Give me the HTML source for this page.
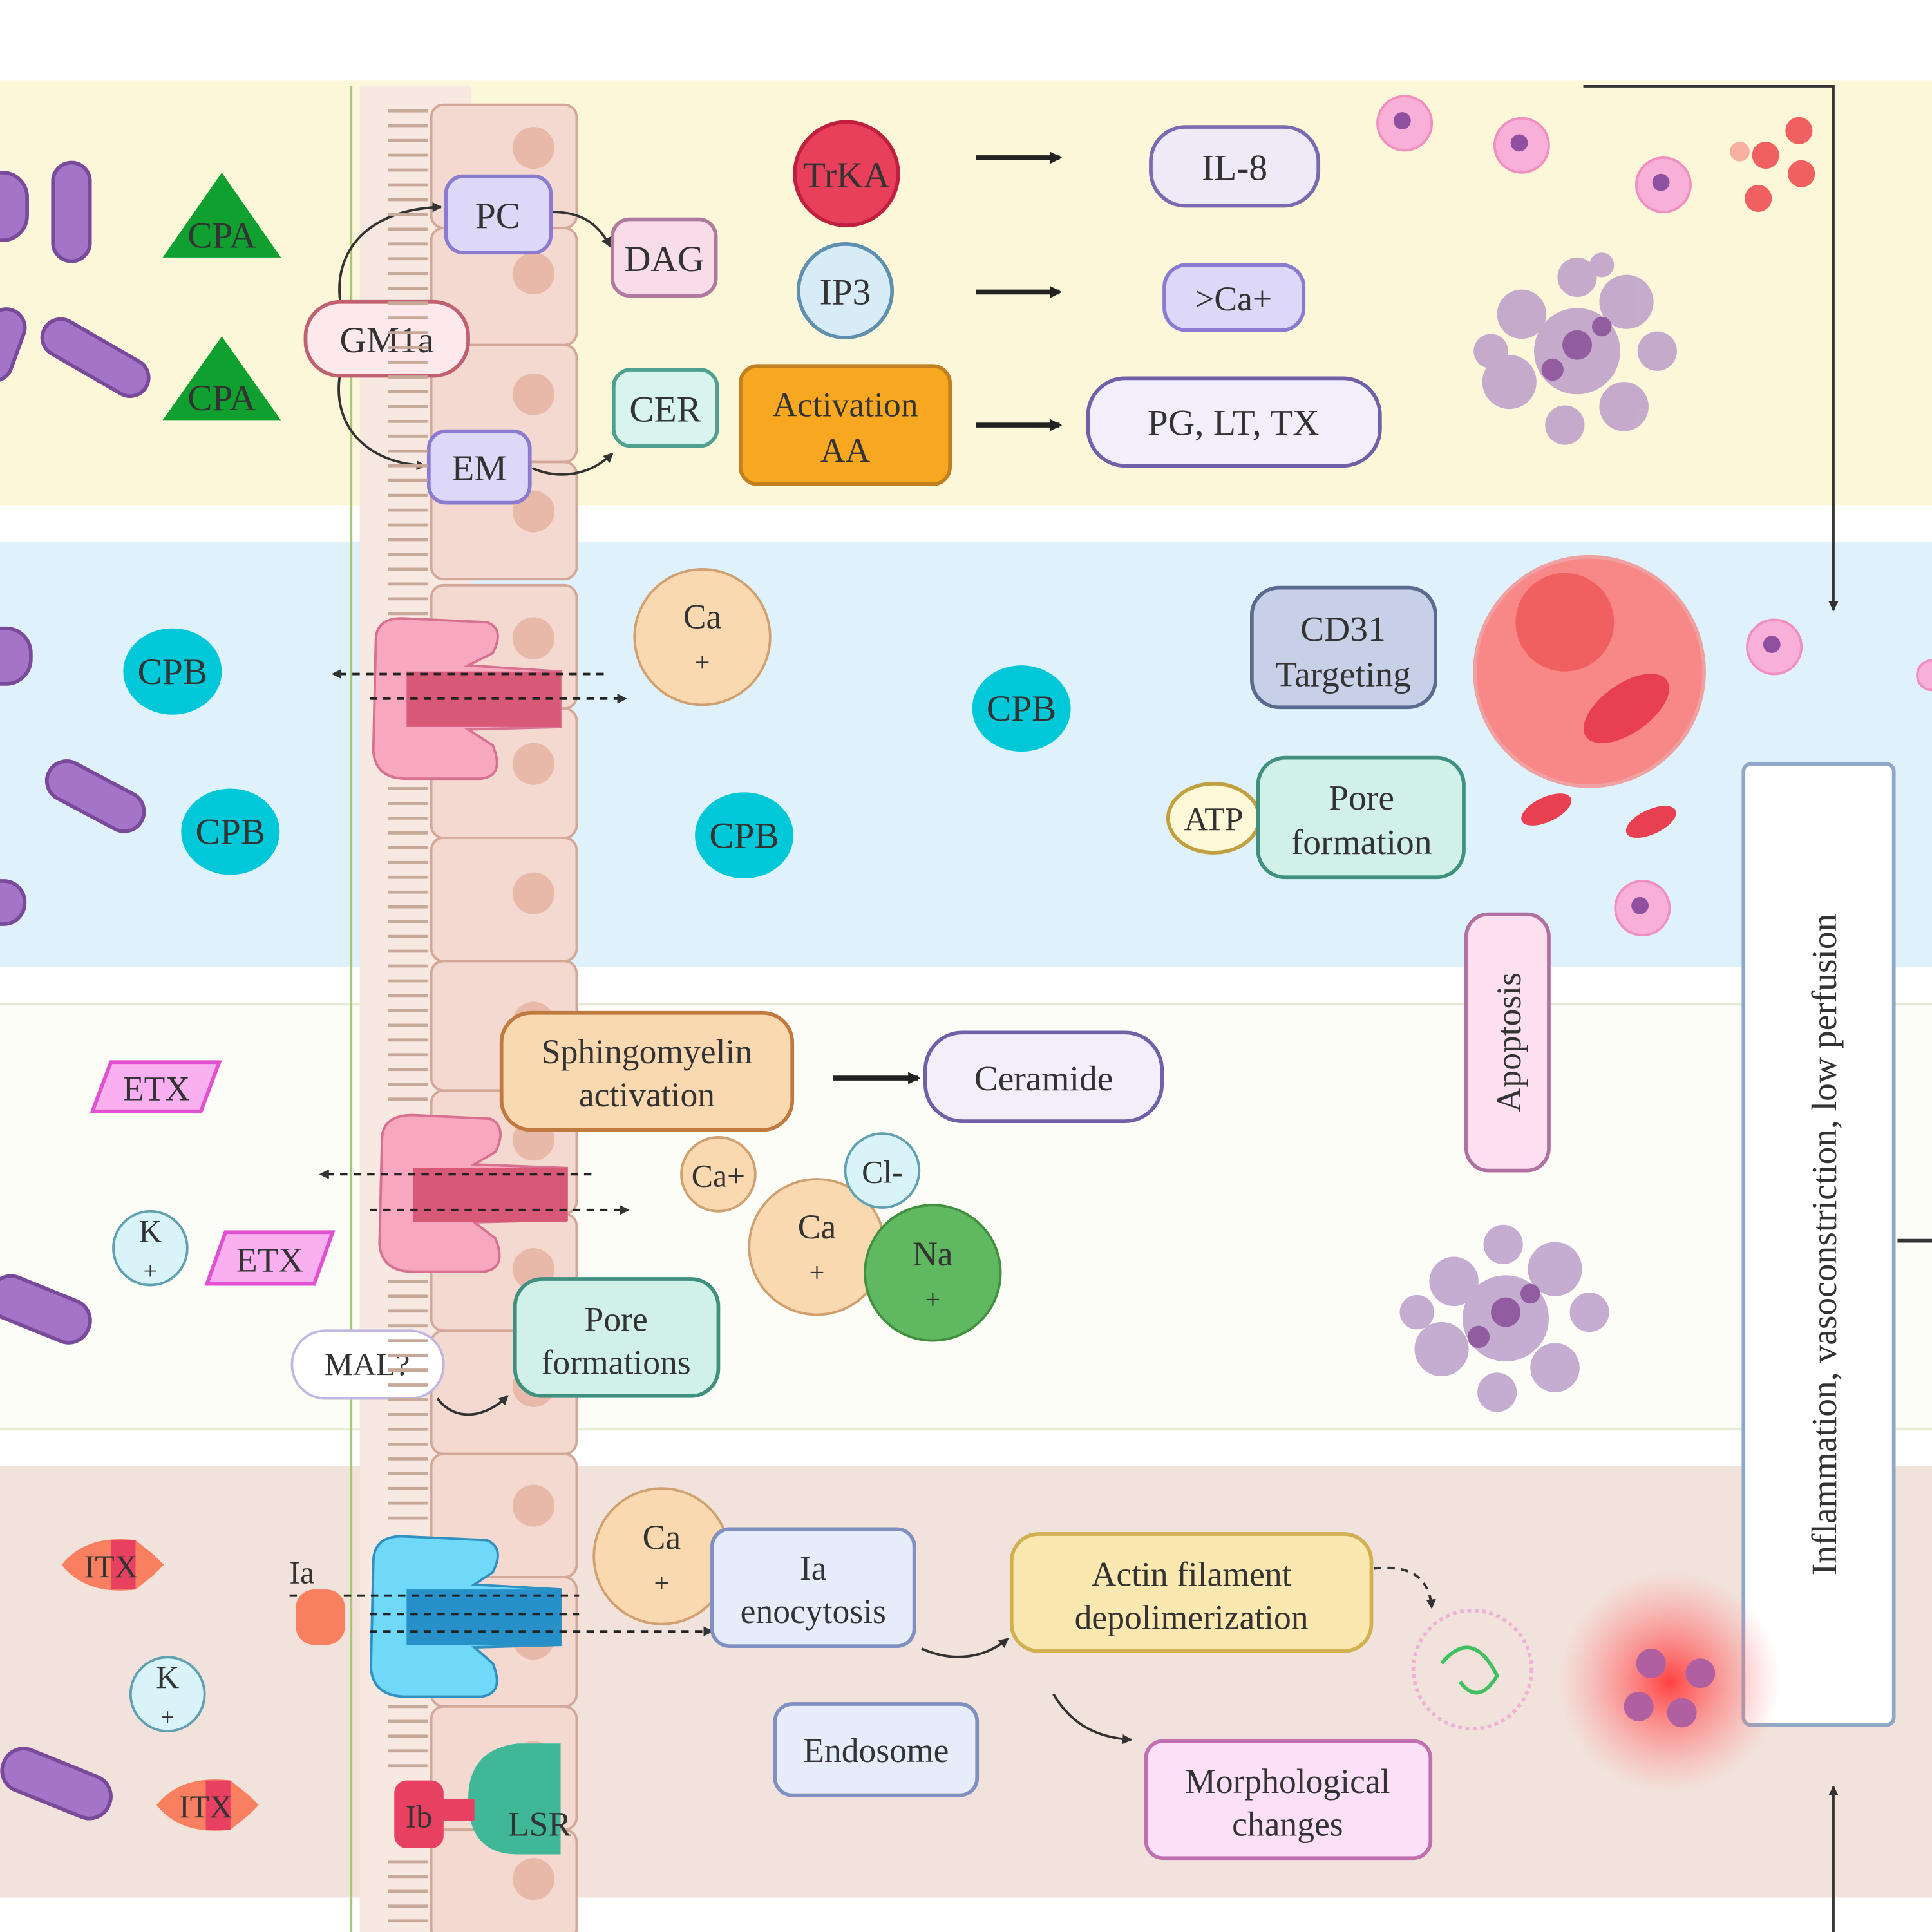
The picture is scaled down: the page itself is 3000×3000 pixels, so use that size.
<!DOCTYPE html>
<html><head><meta charset="utf-8"><style>
html,body{margin:0;padding:0;background:#fff;}
svg{display:block;}
text{font-family:"Liberation Serif",serif;fill:#333;}
</style></head><body>
<svg width="3000" height="3000" viewBox="0 0 1568 1568" xmlns="http://www.w3.org/2000/svg">
<defs>
<marker id="ah" markerWidth="10" markerHeight="10" refX="8" refY="5" orient="auto" markerUnits="userSpaceOnUse"><path d="M0,0 L10,5 L0,10 z" fill="#222"/></marker>
<marker id="ahs" markerWidth="8" markerHeight="8" refX="7" refY="4" orient="auto" markerUnits="userSpaceOnUse"><path d="M0,0 L8,4 L0,8 z" fill="#333"/></marker>
<radialGradient id="glow"><stop offset="0" stop-color="#ff3030" stop-opacity="0.9"/><stop offset="0.5" stop-color="#ff6060" stop-opacity="0.5"/><stop offset="1" stop-color="#ff8080" stop-opacity="0"/></radialGradient>
</defs>
<rect x="0" y="65" width="1568" height="345" fill="#fcf7d9"/>
<rect x="0" y="440" width="1568" height="345" fill="#dff2fc"/>
<rect x="0" y="815" width="1568" height="345" fill="#fdfdf8"/>
<line x1="0" y1="815" x2="1568" y2="815" stroke="#e4ecd8" stroke-width="2"/>
<line x1="0" y1="1160" x2="1568" y2="1160" stroke="#e4ecd8" stroke-width="2"/>
<rect x="0" y="1190" width="1568" height="350" fill="#f2e2dc"/>

<path d="M285,70 L285,1568" stroke="#a8c878" stroke-width="2" fill="none"/>
<rect x="292" y="70" width="90" height="1498" fill="#f8e8e2"/>
<g fill="#f3d9d0" stroke="#d4a898" stroke-width="2">
<rect x="350" y="85" width="118" height="100" rx="10"/>
<rect x="350" y="185" width="118" height="95" rx="10"/>
<rect x="350" y="280" width="118" height="95" rx="10"/>
<rect x="350" y="375" width="118" height="95" rx="10"/>
<rect x="350" y="475" width="118" height="100" rx="10"/>
<rect x="350" y="575" width="118" height="105" rx="10"/>
<rect x="350" y="680" width="118" height="100" rx="10"/>
<rect x="350" y="780" width="118" height="105" rx="10"/>
<rect x="350" y="885" width="118" height="100" rx="10"/>
<rect x="350" y="985" width="118" height="95" rx="10"/>
<rect x="350" y="1080" width="118" height="100" rx="10"/>
<rect x="350" y="1180" width="118" height="100" rx="10"/>
<rect x="350" y="1280" width="118" height="105" rx="10"/>
<rect x="350" y="1385" width="118" height="100" rx="10"/>
<rect x="350" y="1485" width="118" height="90" rx="10"/>
</g>
<g fill="#e8b8a8">
<circle cx="433" cy="120" r="17"/><circle cx="433" cy="222" r="17"/><circle cx="433" cy="320" r="17"/><circle cx="433" cy="415" r="17"/><circle cx="433" cy="518" r="17"/><circle cx="433" cy="620" r="17"/><circle cx="433" cy="725" r="17"/><circle cx="433" cy="830" r="17"/><circle cx="433" cy="925" r="17"/><circle cx="433" cy="1030" r="17"/><circle cx="433" cy="1125" r="17"/><circle cx="433" cy="1222" r="17"/><circle cx="433" cy="1330" r="17"/><circle cx="433" cy="1430" r="17"/><circle cx="433" cy="1525" r="17"/>
</g>

<g>
<path d="M305,520 Q305,500 330,502 L395,505 Q410,510 400,530 L380,540 L455,545 L455,590 L380,592 L400,605 Q410,630 390,632 L330,632 Q305,632 303,610 Z" fill="#f7a8c0" stroke="#d87090" stroke-width="2"/>
<rect x="330" y="545" width="125" height="45" fill="#d85878"/>
<path d="M310,925 Q310,905 335,905 L398,908 Q412,915 402,935 L385,945 L460,948 L460,990 L385,992 L402,1005 Q412,1030 392,1032 L335,1032 Q310,1032 308,1010 Z" fill="#f7a8c0" stroke="#d87090" stroke-width="2"/>
<rect x="335" y="948" width="125" height="44" fill="#d85878"/>
<path d="M303,1268 Q303,1245 330,1247 L395,1250 Q410,1256 400,1276 L385,1286 L455,1290 L455,1335 L385,1337 L400,1350 Q410,1375 390,1377 L330,1377 Q303,1377 301,1354 Z" fill="#70d8f8" stroke="#3090c0" stroke-width="2"/>
<rect x="330" y="1290" width="125" height="45" fill="#2890c8"/>
</g>
<g stroke="#222" stroke-width="2" stroke-dasharray="6,5" fill="none">
<line x1="490" y1="547" x2="270" y2="547" marker-end="url(#ahs)"/>
<line x1="300" y1="567" x2="508" y2="567" marker-end="url(#ahs)"/>
<line x1="480" y1="953" x2="260" y2="953" marker-end="url(#ahs)"/>
<line x1="300" y1="982" x2="510" y2="982" marker-end="url(#ahs)"/>
<line x1="235" y1="1295" x2="470" y2="1295"/>
<line x1="300" y1="1310" x2="470" y2="1310"/>
<line x1="300" y1="1324" x2="578" y2="1324" marker-end="url(#ahs)"/>
</g>

<path d="M420,1415 Q380,1420 380,1460 Q380,1505 420,1505 L455,1505 L455,1415 Z" fill="#40b898"/>
<rect x="320" y="1445" width="40" height="55" rx="10" fill="#e84060"/>
<rect x="355" y="1460" width="30" height="18" fill="#e84060"/>
<text x="340" y="1483" font-size="26" text-anchor="middle">Ib</text>
<text x="438" y="1490" font-size="28" text-anchor="middle">LSR</text>

<g stroke="#333" stroke-width="2" fill="none">
<path d="M300,300 C250,230 280,170 358,168" marker-end="url(#ahs)"/>
<path d="M300,250 C250,320 280,375 345,378" marker-end="url(#ahs)"/>
<path d="M448,172 C470,172 485,180 495,200" marker-end="url(#ahs)"/>
<path d="M432,380 C455,390 480,385 497,368" marker-end="url(#ahs)"/>
<path d="M355,1135 C370,1155 395,1150 412,1133" marker-end="url(#ahs)"/>
<path d="M748,1338 C775,1350 800,1345 818,1330" marker-end="url(#ahs)"/>
<path d="M855,1375 C870,1400 890,1410 918,1412" marker-end="url(#ahs)"/>
</g>
<path d="M1115,1273 C1145,1270 1160,1280 1162,1305" stroke="#333" stroke-width="2" stroke-dasharray="6,5" fill="none" marker-end="url(#ahs)"/>

<g fill="#a474c8" stroke="#7a4a9a" stroke-width="3">
<rect x="43" y="132" width="30" height="80" rx="15"/>
<rect x="-20" y="140" width="42" height="55" rx="20"/>
<rect x="30" y="275" width="95" height="30" rx="15" transform="rotate(30 77 290)"/>
<rect x="-15" y="250" width="30" height="60" rx="15" transform="rotate(20 0 280)"/>
<rect x="-20" y="510" width="45" height="45" rx="20"/>
<rect x="35" y="630" width="85" height="32" rx="16" transform="rotate(28 77 646)"/>
<rect x="-20" y="715" width="40" height="35" rx="17"/>
<rect x="-10" y="1045" width="85" height="35" rx="17" transform="rotate(22 32 1062)"/>
<rect x="0" y="1430" width="92" height="35" rx="17" transform="rotate(22 46 1447)"/>
</g>

<g fill="#10a030">
<polygon points="180,140 228,209 132,209"/>
<polygon points="180,273 228,341 132,341"/>
</g>
<text x="180" y="201" font-size="30" text-anchor="middle" fill="#222">CPA</text>
<text x="180" y="333" font-size="30" text-anchor="middle" fill="#222">CPA</text>

<g stroke-width="3">
<rect x="362" y="143" width="85" height="62" rx="14" fill="#ddd8f8" stroke="#8a7ad0"/>
<rect x="497" y="178" width="84" height="62" rx="14" fill="#f8dce8" stroke="#b07aa0"/>
<rect x="248" y="245" width="132" height="60" rx="28" fill="#fde8ec" stroke="#c06070"/>
<rect x="348" y="350" width="82" height="58" rx="14" fill="#ddd8f8" stroke="#8a7ad0"/>
<rect x="498" y="300" width="84" height="62" rx="14" fill="#d8f4ee" stroke="#50a090"/>
<rect x="601" y="297" width="170" height="96" rx="14" fill="#f8a820" stroke="#c08020"/>
<circle cx="687" cy="141" r="42" fill="#e8405a" stroke="#c02040"/>
<circle cx="686" cy="236" r="38" fill="#d8ecf8" stroke="#6090b0"/>
<rect x="934" y="103" width="136" height="64" rx="28" fill="#eeeaf8" stroke="#7a6ab0"/>
<rect x="945" y="215" width="113" height="53" rx="18" fill="#ddd8f8" stroke="#8a7ad0"/>
<rect x="883" y="307" width="237" height="71" rx="30" fill="#f2eefa" stroke="#7060a8"/>
</g>
<g font-size="30" text-anchor="middle">
<text x="404" y="185">PC</text>
<text x="539" y="220">DAG</text>
<text x="314" y="286">GM1a</text>
<text x="389" y="390">EM</text>
<text x="540" y="342">CER</text>
<text x="686" y="338" font-size="28">Activation</text>
<text x="686" y="375" font-size="28">AA</text>
<text x="687" y="152" fill="#fff">TrKA</text>
<text x="686" y="247">IP3</text>
<text x="1002" y="146">IL-8</text>
<text x="1001" y="252" font-size="28">&gt;Ca+</text>
<text x="1001" y="353">PG, LT, TX</text>
</g>
<g stroke="#222" stroke-width="4">
<line x1="792" y1="128" x2="860" y2="128" marker-end="url(#ah)"/>
<line x1="792" y1="237" x2="860" y2="237" marker-end="url(#ah)"/>
<line x1="792" y1="345" x2="860" y2="345" marker-end="url(#ah)"/>
<line x1="676" y1="875" x2="745" y2="875" marker-end="url(#ah)"/>
</g>

<g fill="#f8b0d8" stroke="#f090c0" stroke-width="2">
<circle cx="1140" cy="100" r="22"/><circle cx="1235" cy="118" r="22"/><circle cx="1350" cy="150" r="22"/>
<circle cx="1440" cy="525" r="22"/><circle cx="1333" cy="737" r="22"/><circle cx="1568" cy="548" r="12"/>
</g>
<g fill="#9050a0"><circle cx="1138" cy="98" r="7"/><circle cx="1233" cy="116" r="7"/><circle cx="1348" cy="148" r="7"/><circle cx="1438" cy="523" r="7"/><circle cx="1331" cy="735" r="7"/></g>
<g fill="#f06060">
<circle cx="1460" cy="106" r="11"/><circle cx="1433" cy="126" r="11"/><circle cx="1462" cy="141" r="11"/><circle cx="1427" cy="161" r="11"/><circle cx="1412" cy="123" r="8" fill="#f8b0a0"/>
</g>
<g fill="#b898c8" opacity="0.8">
<circle cx="1280" cy="285" r="35"/><circle cx="1235" cy="255" r="20"/><circle cx="1320" cy="245" r="22"/><circle cx="1225" cy="310" r="22"/><circle cx="1318" cy="330" r="20"/><circle cx="1280" cy="225" r="16"/><circle cx="1345" cy="285" r="16"/><circle cx="1210" cy="285" r="14"/><circle cx="1270" cy="345" r="16"/><circle cx="1300" cy="215" r="10"/>
<circle cx="1222" cy="1070" r="35"/><circle cx="1180" cy="1040" r="20"/><circle cx="1262" cy="1030" r="22"/><circle cx="1170" cy="1095" r="22"/><circle cx="1262" cy="1110" r="20"/><circle cx="1220" cy="1010" r="16"/><circle cx="1290" cy="1065" r="16"/><circle cx="1150" cy="1065" r="14"/><circle cx="1215" cy="1130" r="16"/>
</g>
<g fill="#8a5098" opacity="0.85"><circle cx="1280" cy="280" r="12"/><circle cx="1260" cy="300" r="9"/><circle cx="1300" cy="265" r="8"/><circle cx="1222" cy="1065" r="12"/><circle cx="1200" cy="1085" r="9"/><circle cx="1242" cy="1050" r="8"/></g>

<g fill="#00c8d8">
<ellipse cx="140" cy="545" rx="40" ry="35"/><ellipse cx="187" cy="675" rx="40" ry="35"/><ellipse cx="829" cy="575" rx="40" ry="35"/><ellipse cx="604" cy="678" rx="40" ry="35"/>
</g>
<g font-size="30" text-anchor="middle" fill="#222">
<text x="140" y="555">CPB</text><text x="187" y="685">CPB</text><text x="829" y="585">CPB</text><text x="604" y="688">CPB</text>
</g>
<g fill="#fad8b0" stroke="#d0a070" stroke-width="2">
<circle cx="570" cy="517" r="55"/><circle cx="583" cy="953" r="30"/><circle cx="663" cy="1012" r="55"/><circle cx="537" cy="1263" r="55"/>
</g>
<g fill="#d8f4f8" stroke="#60a0b0" stroke-width="2">
<circle cx="716" cy="950" r="30"/><circle cx="122" cy="1013" r="30"/><circle cx="136" cy="1375" r="30"/>
</g>
<circle cx="757" cy="1033" r="55" fill="#60b860" stroke="#409040" stroke-width="2"/>
<g font-size="28" text-anchor="middle">
<text x="570" y="510">Ca</text><text x="570" y="545" font-size="22">+</text>
<text x="583" y="963" font-size="26">Ca+</text>
<text x="716" y="960" font-size="26">Cl-</text>
<text x="663" y="1005">Ca</text><text x="663" y="1040" font-size="22">+</text>
<text x="757" y="1027">Na</text><text x="757" y="1062" font-size="22">+</text>
<text x="537" y="1257">Ca</text><text x="537" y="1292" font-size="22">+</text>
<text x="122" y="1008" font-size="26">K</text><text x="122" y="1038" font-size="20">+</text>
<text x="136" y="1370" font-size="26">K</text><text x="136" y="1400" font-size="20">+</text>
</g>

<rect x="1016" y="477" width="149" height="97" rx="22" fill="#c8d0e8" stroke="#5a6a90" stroke-width="3"/>
<text x="1090" y="520" font-size="29" text-anchor="middle">CD31</text>
<text x="1090" y="557" font-size="29" text-anchor="middle">Targeting</text>
<circle cx="1290" cy="545" r="93" fill="#f88888" stroke="#f0a0a0" stroke-width="3"/>
<circle cx="1270" cy="505" r="40" fill="#f06060"/>
<ellipse cx="1320" cy="575" rx="40" ry="20" fill="#e84050" transform="rotate(-35 1320 575)"/>
<ellipse cx="1255" cy="657" rx="22" ry="10" fill="#e84050" transform="rotate(-25 1255 657)"/>
<ellipse cx="1340" cy="667" rx="22" ry="10" fill="#e84050" transform="rotate(-25 1340 667)"/>
<ellipse cx="985" cy="664" rx="37" ry="28" fill="#fdf8d8" stroke="#c0a040" stroke-width="3"/>
<text x="985" y="674" font-size="27" text-anchor="middle">ATP</text>
<rect x="1021" y="615" width="167" height="97" rx="22" fill="#d0f0e8" stroke="#409080" stroke-width="3"/>
<text x="1105" y="657" font-size="29" text-anchor="middle">Pore</text>
<text x="1105" y="693" font-size="29" text-anchor="middle">formation</text>
<rect x="1190" y="742" width="67" height="208" rx="18" fill="#fce0f0" stroke="#b070a0" stroke-width="3"/>
<text x="1234" y="846" font-size="28" text-anchor="middle" transform="rotate(-90 1234 846)">Apoptosis</text>

<rect x="1415" y="620" width="122" height="780" rx="6" fill="#fff" stroke="#90a8c8" stroke-width="3"/>
<text x="1490" y="1010" font-size="29" text-anchor="middle" transform="rotate(-90 1490 1010)">Inflammation, vasoconstriction, low perfusion</text>
<path d="M1285,70 L1488,70 L1488,495" stroke="#333" stroke-width="2" fill="none" marker-end="url(#ahs)"/>
<line x1="1488" y1="1568" x2="1488" y2="1450" stroke="#333" stroke-width="2" marker-end="url(#ahs)"/>
<line x1="1540" y1="1007" x2="1568" y2="1007" stroke="#333" stroke-width="3"/>

<g fill="#f8b0f0" stroke="#e050d0" stroke-width="3">
<polygon points="90,862 178,862 163,902 75,902"/>
<polygon points="183,1000 270,1000 255,1042 168,1042"/>
</g>
<text x="127" y="893" font-size="28" text-anchor="middle">ETX</text>
<text x="219" y="1032" font-size="28" text-anchor="middle">ETX</text>
<rect x="407" y="822" width="236" height="95" rx="24" fill="#fad8b0" stroke="#c07a40" stroke-width="3"/>
<text x="525" y="863" font-size="28" text-anchor="middle">Sphingomyelin</text>
<text x="525" y="898" font-size="28" text-anchor="middle">activation</text>
<rect x="751" y="838" width="192" height="72" rx="30" fill="#f2eefa" stroke="#7060a8" stroke-width="3"/>
<text x="847" y="885" font-size="29" text-anchor="middle">Ceramide</text>
<rect x="237" y="1080" width="123" height="55" rx="27" fill="#fff" stroke="#c0b8e0" stroke-width="2"/>
<text x="298" y="1116" font-size="26" text-anchor="middle">MAL?</text>
<rect x="418" y="1038" width="165" height="95" rx="22" fill="#d0f0e8" stroke="#409080" stroke-width="3"/>
<text x="500" y="1080" font-size="28" text-anchor="middle">Pore</text>
<text x="500" y="1115" font-size="28" text-anchor="middle">formations</text>

<g>
<path d="M50,1270 Q70,1245 110,1250 L125,1262 L133,1270 L125,1278 L110,1290 Q70,1295 50,1270Z" fill="#f88060"/>
<rect x="90" y="1250" width="20" height="40" fill="#e84060"/>
<path d="M127,1465 Q147,1440 187,1445 L202,1457 L210,1465 L202,1473 L187,1485 Q147,1490 127,1465Z" fill="#f88060"/>
<rect x="167" y="1445" width="20" height="40" fill="#e84060"/>
<rect x="240" y="1290" width="40" height="45" rx="15" fill="#f88060"/>
</g>
<text x="90" y="1280" font-size="26" text-anchor="middle">ITX</text>
<text x="167" y="1475" font-size="26" text-anchor="middle">ITX</text>
<text x="245" y="1285" font-size="26" text-anchor="middle">Ia</text>
<rect x="578" y="1241" width="164" height="95" rx="14" fill="#e6ecfa" stroke="#8090c0" stroke-width="3"/>
<text x="660" y="1282" font-size="28" text-anchor="middle">Ia</text>
<text x="660" y="1317" font-size="28" text-anchor="middle">enocytosis</text>
<rect x="821" y="1245" width="292" height="95" rx="22" fill="#fae8b0" stroke="#d0b050" stroke-width="3"/>
<text x="967" y="1287" font-size="28" text-anchor="middle">Actin filament</text>
<text x="967" y="1322" font-size="28" text-anchor="middle">depolimerization</text>
<rect x="629" y="1383" width="164" height="74" rx="14" fill="#e6ecfa" stroke="#8090c0" stroke-width="3"/>
<text x="711" y="1430" font-size="28" text-anchor="middle">Endosome</text>
<rect x="930" y="1413" width="231" height="95" rx="14" fill="#fce0f8" stroke="#c070b0" stroke-width="3"/>
<text x="1045" y="1455" font-size="28" text-anchor="middle">Morphological</text>
<text x="1045" y="1490" font-size="28" text-anchor="middle">changes</text>
<circle cx="1195" cy="1355" r="48" fill="none" stroke="#f0b0d8" stroke-width="3" stroke-dasharray="3,3"/>
<path d="M1170,1350 Q1195,1320 1215,1360 Q1200,1385 1185,1365" stroke="#40c060" stroke-width="3" fill="none"/>
<circle cx="1355" cy="1365" r="90" fill="url(#glow)"/>
<g fill="#b060a0"><circle cx="1340" cy="1350" r="12"/><circle cx="1380" cy="1358" r="12"/><circle cx="1330" cy="1385" r="12"/><circle cx="1365" cy="1390" r="12"/></g>

<g stroke="#c8a898" stroke-width="2.5" fill="none">
<path d="M315,90 h32 M315,102 h32 M315,114 h32 M315,126 h32 M315,138 h32 M315,150 h32 M315,162 h32 M315,174 h32 M315,186 h32 M315,198 h32 M315,210 h32 M315,222 h32 M315,234 h32 M315,246 h32 M315,258 h32 M315,270 h32 M315,282 h32 M315,294 h32 M315,306 h32 M315,318 h32 M315,330 h32 M315,342 h32 M315,354 h32 M315,366 h32 M315,378 h32 M315,390 h32 M315,402 h32 M315,414 h32 M315,426 h32 M315,438 h32 M315,450 h32 M315,462 h32 M315,474 h32 M315,486 h32 M315,498 h32"/>
<path d="M315,640 h32 M315,652 h32 M315,664 h32 M315,676 h32 M315,688 h32 M315,700 h32 M315,712 h32 M315,724 h32 M315,736 h32 M315,748 h32 M315,760 h32 M315,772 h32 M315,784 h32 M315,796 h32 M315,808 h32 M315,820 h32 M315,832 h32 M315,844 h32 M315,856 h32 M315,868 h32 M315,880 h32 M315,892 h32"/>
<path d="M315,1040 h32 M315,1052 h32 M315,1064 h32 M315,1076 h32 M315,1088 h32 M315,1100 h32 M315,1112 h32 M315,1124 h32 M315,1136 h32 M315,1148 h32 M315,1160 h32 M315,1172 h32 M315,1184 h32 M315,1196 h32 M315,1208 h32 M315,1220 h32 M315,1232 h32"/>
<path d="M315,1385 h32 M315,1397 h32 M315,1409 h32 M315,1421 h32 M315,1433 h32 M315,1511 h32 M315,1523 h32 M315,1535 h32 M315,1547 h32 M315,1559 h32"/>
</g>
</svg>
</body></html>
